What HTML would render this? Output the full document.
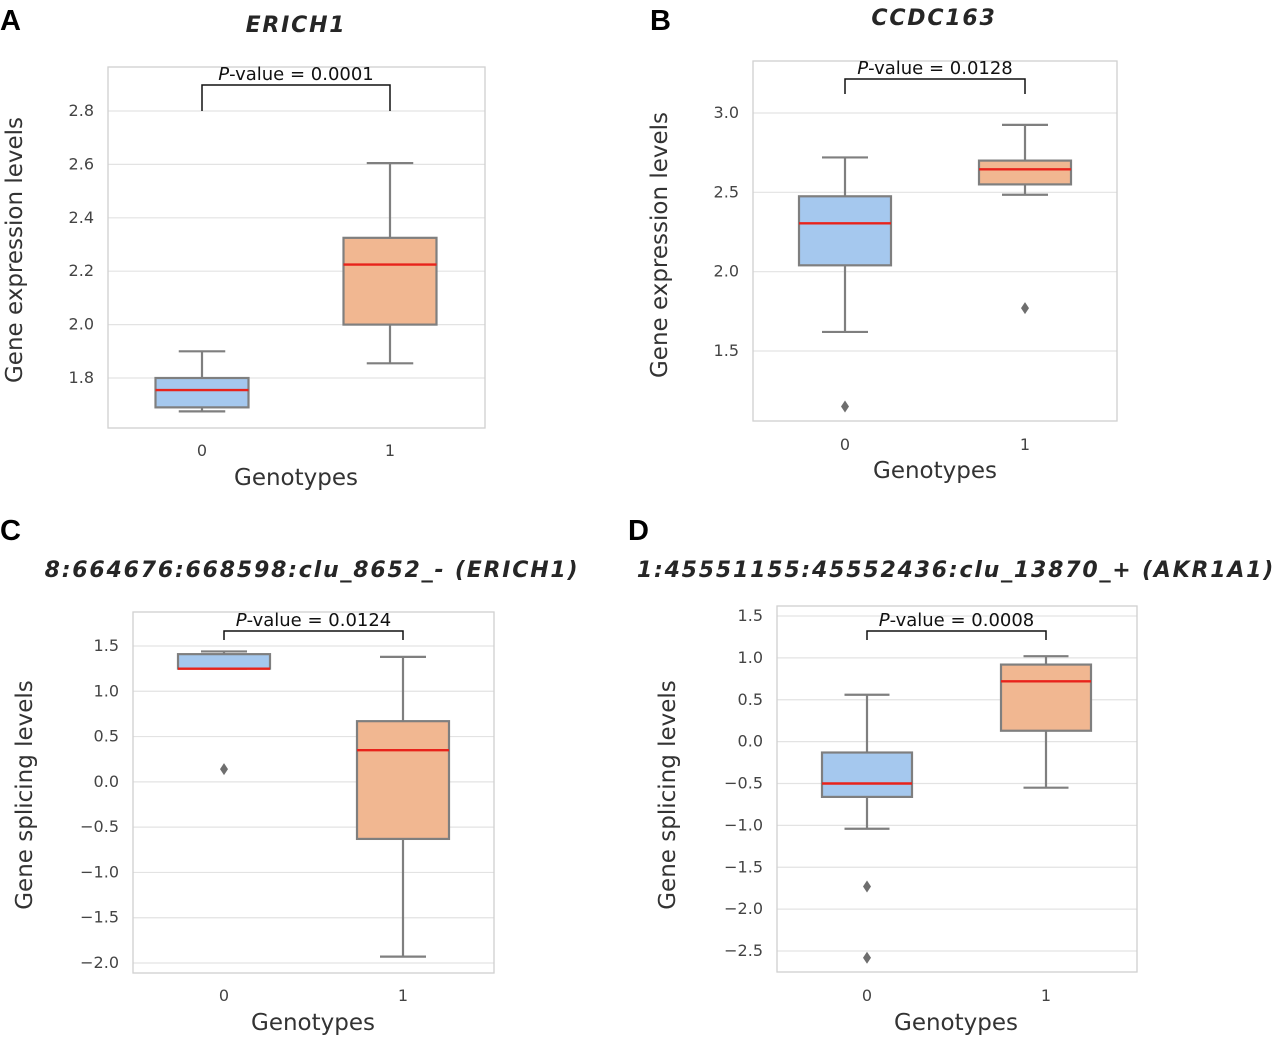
<!DOCTYPE html>
<html><head><meta charset="utf-8"><style>
body{margin:0;background:#fff}
svg{display:block;font-family:"DejaVu Sans","Liberation Sans",sans-serif}
</style></head><body>
<svg id="chart" width="1280" height="1039" viewBox="0 0 1280 1039"></svg>
<script>
// Panel data
const panelNames=["A","B","C","D"];
const titles=["ERICH1","CCDC163","8:664676:668598:clu_8652_- (ERICH1)","1:45551155:45552436:clu_13870_+ (AKR1A1)"];
const yLabels=["Gene expression levels","Gene expression levels","Gene splicing levels","Gene splicing levels"];
const pValues=["0.0001","0.0128","0.0124","0.0008"];
const categories=["0","1"];
const ticksA=[1.8,2.0,2.2,2.4,2.6,2.8];
const ticksB=[1.5,2.0,2.5,3.0];
const ticksC=[-2.0,-1.5,-1.0,-0.5,0.0,0.5,1.0,1.5];
const ticksD=[-2.5,-2.0,-1.5,-1.0,-0.5,0.0,0.5,1.0,1.5];
// [whiskerLow, q1, median, q3, whiskerHigh]
const boxesA=[[1.675,1.69,1.755,1.80,1.90],[1.855,2.0,2.225,2.325,2.605]];
const boxesB=[[1.62,2.04,2.305,2.475,2.72],[2.485,2.55,2.645,2.70,2.925]];
const boxesC=[[1.25,1.25,1.25,1.41,1.44],[-1.93,-0.63,0.35,0.67,1.38]];
const boxesD=[[-1.04,-0.66,-0.50,-0.13,0.56],[-0.55,0.13,0.72,0.92,1.02]];
const outliersA=[[],[]];
const outliersB=[[1.15],[1.77]];
const outliersC=[[0.14],[]];
const outliersD=[[-1.73,-2.58],[]];

const layout=[
 {x0:108,x1:485,y0:67,y1:428,v0:1.8,p0:378,v1:2.8,p1:111,c:[202,390],bw:93,brY:85,brLeg:111,txtY:80,titleX:296,titleY:32,letX:0,letY:30,ylX:22,ylY:250,xlY:485,tickY:456,xlX:296},
 {x0:753,x1:1117,y0:61,y1:421,v0:1.5,p0:351,v1:3.0,p1:113,c:[845,1025],bw:92,brY:79,brLeg:94,txtY:74,titleX:934,titleY:25,letX:650,letY:30,ylX:667,ylY:245,xlY:478,tickY:450,xlX:935},
 {x0:133,x1:494,y0:612,y1:973,v0:-2.0,p0:963,v1:1.5,p1:646,c:[224,403],bw:92,brY:631,brLeg:640,txtY:626,titleX:312,titleY:577,letX:0,letY:540,ylX:32,ylY:795,xlY:1030,tickY:1001,xlX:313},
 {x0:777,x1:1137,y0:606,y1:972,v0:-2.5,p0:951,v1:1.5,p1:616,c:[867,1046],bw:90,brY:631,brLeg:640,txtY:626,titleX:956,titleY:577,letX:628,letY:540,ylX:675,ylY:795,xlY:1030,tickY:1001,xlX:956}
];
const ticks=[ticksA,ticksB,ticksC,ticksD];
const boxes=[boxesA,boxesB,boxesC,boxesD];
const outs=[outliersA,outliersB,outliersC,outliersD];
const fills=["#a5c8ee","#f1b791"];
const svg=document.getElementById('chart');
const NS="http://www.w3.org/2000/svg";
function mk(tag,attrs,parent,text){const e=document.createElementNS(NS,tag);for(const k in attrs)e.setAttribute(k,attrs[k]);if(text!==undefined)e.textContent=text;parent.appendChild(e);return e;}
function fmt(v){const s=v.toFixed(1);return v<0?"\u2212"+s.slice(1):s;}

layout.forEach((L,i)=>{
 const y=v=>L.p0+(v-L.v0)*(L.p1-L.p0)/(L.v1-L.v0);
 const g=mk('g',{},svg);
 
 
 const let_=mk('text',{x:L.letX,y:L.letY,'font-size':29,'font-weight':'bold',fill:'#000','font-family':'"Liberation Sans",sans-serif'},g,panelNames[i]);
 
 
 const t=mk('text',{x:L.titleX,y:L.titleY,'font-size':22,'letter-spacing':1.8,'font-weight':'bold','font-style':'italic',fill:'#262626','text-anchor':'middle'},g,titles[i]);
 
 
 ticks[i].forEach(v=>{
  const yy=y(v);
  const gl=mk('line',{x1:L.x0,x2:L.x1,y1:yy,y2:yy,stroke:'#e3e3e3','stroke-width':1.2},g);
  
  
  const tl=mk('text',{x:L.x0-14,y:yy+5,'font-size':16,fill:'#444','text-anchor':'end'},g,fmt(v));
  
  
 });
 const fr=mk('rect',{x:L.x0,y:L.y0,width:L.x1-L.x0,height:L.y1-L.y0,fill:'none',stroke:'#d0d0d0','stroke-width':1.3},g);
 
 
 categories.forEach((c,j)=>{
  const cx=L.c[j],b=boxes[i][j],hw=L.bw/2;
  const bg=mk('g',{},g);
  
  
  mk('line',{x1:cx,x2:cx,y1:y(b[0]),y2:y(b[1]),stroke:'#7f7f7f','stroke-width':2.2},bg);
  mk('line',{x1:cx,x2:cx,y1:y(b[3]),y2:y(b[4]),stroke:'#7f7f7f','stroke-width':2.2},bg);
  mk('line',{x1:cx-hw/2,x2:cx+hw/2,y1:y(b[0]),y2:y(b[0]),stroke:'#7f7f7f','stroke-width':2.2},bg);
  mk('line',{x1:cx-hw/2,x2:cx+hw/2,y1:y(b[4]),y2:y(b[4]),stroke:'#7f7f7f','stroke-width':2.2},bg);
  mk('rect',{x:cx-hw,y:y(b[3]),width:L.bw,height:Math.max(0.5,y(b[1])-y(b[3])),fill:fills[j],stroke:'#7f7f7f','stroke-width':2.2},bg);
  mk('line',{x1:cx-hw,x2:cx+hw,y1:y(b[2]),y2:y(b[2]),stroke:'#e8231b','stroke-width':2.4},bg);
  outs[i][j].forEach(v=>{
   const o=mk('path',{d:`M${cx},${y(v)-6}L${cx+4},${y(v)}L${cx},${y(v)+6}L${cx-4},${y(v)}Z`,fill:'#6e6e6e'},g);
   
   
  });
  const xl=mk('text',{x:cx,y:L.tickY,'font-size':16,fill:'#444','text-anchor':'middle'},g,c);
  
  
 });
 const br=mk('path',{d:`M${L.c[0]},${L.brLeg}V${L.brY}H${L.c[1]}V${L.brLeg}`,fill:'none',stroke:'#111','stroke-width':1.5},g);
 
 
 const pt=mk('text',{x:(L.c[0]+L.c[1])/2,y:L.txtY,'font-size':18,fill:'#111','text-anchor':'middle'},g);
 
 
 mk('tspan',{'font-style':'italic'},pt,'P');
 mk('tspan',{},pt,'-value = '+pValues[i]);
 const xa=mk('text',{x:L.xlX,y:L.xlY,'font-size':23,fill:'#333','text-anchor':'middle'},g,'Genotypes');
 
 
 const ya=mk('text',{x:0,y:0,'font-size':23,fill:'#333','text-anchor':'middle',transform:`translate(${L.ylX},${L.ylY}) rotate(-90)`},g,yLabels[i]);
 
 
});
</script>
</body></html>
